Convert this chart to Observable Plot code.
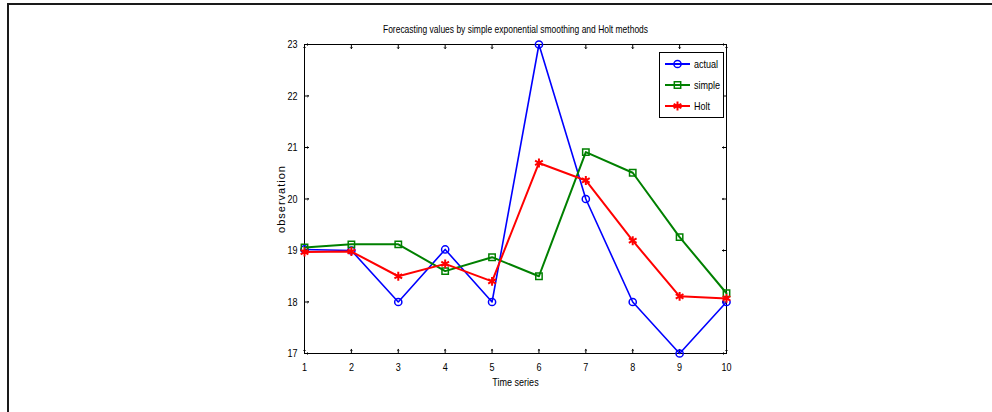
<!DOCTYPE html>
<html>
<head>
<meta charset="utf-8">
<script src="https://cdn.jsdelivr.net/npm/d3@7"></script>
<script src="https://cdn.jsdelivr.net/npm/@observablehq/plot@0.6"></script>
<style>
  body { margin: 0; background: #fff; }
  #wrap { position: relative; width: 992px; height: 412px; overflow: hidden; background: #fff; }
  #border { position: absolute; left: 7px; top: 3px; right: -10px; bottom: -10px;
            border-top: 2px solid #1a1a1a; border-left: 2px solid #1a1a1a; pointer-events: none; }
  #legend { position: absolute; left: 0; top: 0; pointer-events: none; }
</style>
</head>
<body>
<div id="wrap"><div id="border"></div></div>
<script>
// ---- data ----
const titleText = "Forecasting values by simple exponential smoothing and Holt methods";
const xLabel = "Time series";
const yLabel = "observation";
const timeSeries = [1, 2, 3, 4, 5, 6, 7, 8, 9, 10];
const actual = [19.02, 19, 18, 19.02, 18, 23, 20, 18, 17, 18];
const simple = [19.06, 19.12, 19.12, 18.6, 18.87, 18.5, 20.91, 20.51, 19.26, 18.17];
const holt = [18.97, 18.98, 18.5, 18.74, 18.4, 20.7, 20.36, 19.19, 18.11, 18.07];
const seriesNames = ["actual", "simple", "Holt"];
const seriesColors = ["#0000ff", "#008000", "#ff0000"];
const seriesSymbols = ["circle", "square", "asterisk"];
const xTicks = [1, 2, 3, 4, 5, 6, 7, 8, 9, 10];
const yTicks = [17, 18, 19, 20, 21, 22, 23];

const FONT = "'Liberation Sans', Arial, sans-serif";
const CONDENSE = 0.82;
const TITLE_CONDENSE = 0.77;

const seriesValues = [actual, simple, holt];
const rows = [];
seriesNames.forEach((name, si) => {
  seriesValues[si].forEach((v, i) => rows.push({t: timeSeries[i], value: v, series: name}));
});

const marks = [
  Plot.frame({stroke: "black", strokeWidth: 1}),
  Plot.axisX({ticks: xTicks, tickSize: 0, tickPadding: 10, label: null, tickFormat: d => String(d)}),
  Plot.axisY({ticks: yTicks, tickSize: 0, tickPadding: 7, tickFormat: d => String(d),
    label: yLabel, labelAnchor: "center", labelOffset: 27, labelArrow: "none"}),
  Plot.vector(xTicks, {x: d => d, frameAnchor: "bottom", length: 4, rotate: 0, anchor: "start", stroke: "black", strokeWidth: 1}),
  Plot.vector(xTicks, {x: d => d, frameAnchor: "top", length: 4, rotate: 180, anchor: "start", stroke: "black", strokeWidth: 1}),
  Plot.vector(yTicks, {y: d => d, frameAnchor: "left", length: 4, rotate: 90, anchor: "start", stroke: "black", strokeWidth: 1}),
  Plot.vector(yTicks, {y: d => d, frameAnchor: "right", length: 4, rotate: -90, anchor: "start", stroke: "black", strokeWidth: 1})
];
seriesNames.forEach((name, si) => {
  const data = rows.filter(r => r.series === name);
  marks.push(Plot.line(data, {x: "t", y: "value", stroke: seriesColors[si], strokeWidth: si === 0 ? 1.6 : 2}));
  marks.push(Plot.dot(data, {x: "t", y: "value", stroke: seriesColors[si], fill: "none",
    symbol: seriesSymbols[si], r: si === 2 ? 4.2 : 3.6, strokeWidth: si === 2 ? 2 : 1.5}));
});
marks.push(
  Plot.text([titleText], {text: d => d, frameAnchor: "top", dy: -19, fontSize: 11}),
  Plot.text([xLabel], {text: d => d, frameAnchor: "bottom", dy: 32, fontSize: 11})
);

const chart = Plot.plot({
  width: 992, height: 412,
  marginLeft: 304, marginRight: 266, marginTop: 44, marginBottom: 59,
  style: {fontFamily: FONT, fontSize: "11px", background: "transparent", color: "black"},
  x: {domain: [1, 10]},
  y: {domain: [17, 23]},
  marks
});

const wrap = document.getElementById("wrap");
wrap.insertBefore(chart, wrap.firstChild);

// ---- legend ----
const lg = d3.select(wrap).append("svg").attr("id", "legend")
  .attr("width", 992).attr("height", 412);
lg.append("rect").attr("x", 659.5).attr("y", 52.5).attr("width", 64).attr("height", 65)
  .attr("fill", "white").attr("stroke", "black").attr("stroke-width", 1);
const symMap = {circle: d3.symbolCircle, square: d3.symbolSquare, asterisk: d3.symbolAsterisk};
const legendY = [64, 85, 106];
seriesNames.forEach((name, i) => {
  const g = lg.append("g").attr("transform", `translate(0,${legendY[i]})`);
  g.append("line").attr("x1", 665).attr("x2", 690).attr("y1", 0).attr("y2", 0)
    .attr("stroke", seriesColors[i]).attr("stroke-width", 2);
  const r = i === 2 ? 4.2 : 3.6;
  g.append("path").attr("transform", "translate(677.5,0)")
    .attr("d", d3.symbol(symMap[seriesSymbols[i]], Math.PI * r * r)())
    .attr("fill", "none").attr("stroke", seriesColors[i]).attr("stroke-width", i === 2 ? 2 : 1.5);
  g.append("text").attr("x", 694).attr("y", 0).attr("dy", "0.35em")
    .attr("font-family", FONT).attr("font-size", 11).text(name);
});

// condense text to mimic a narrow face; y label keeps normal width with letter spacing
wrap.querySelectorAll("text").forEach(t => {
  if (t.textContent === yLabel) {
    t.setAttribute("letter-spacing", "1px");
    return;
  }
  if (t.querySelector("tspan")) return;
  const len = t.getComputedTextLength();
  const k = t.textContent === titleText ? TITLE_CONDENSE : CONDENSE;
  if (len > 0) {
    t.setAttribute("textLength", (len * k).toFixed(2));
    t.setAttribute("lengthAdjust", "spacingAndGlyphs");
  }
});
</script>
</body>
</html>
